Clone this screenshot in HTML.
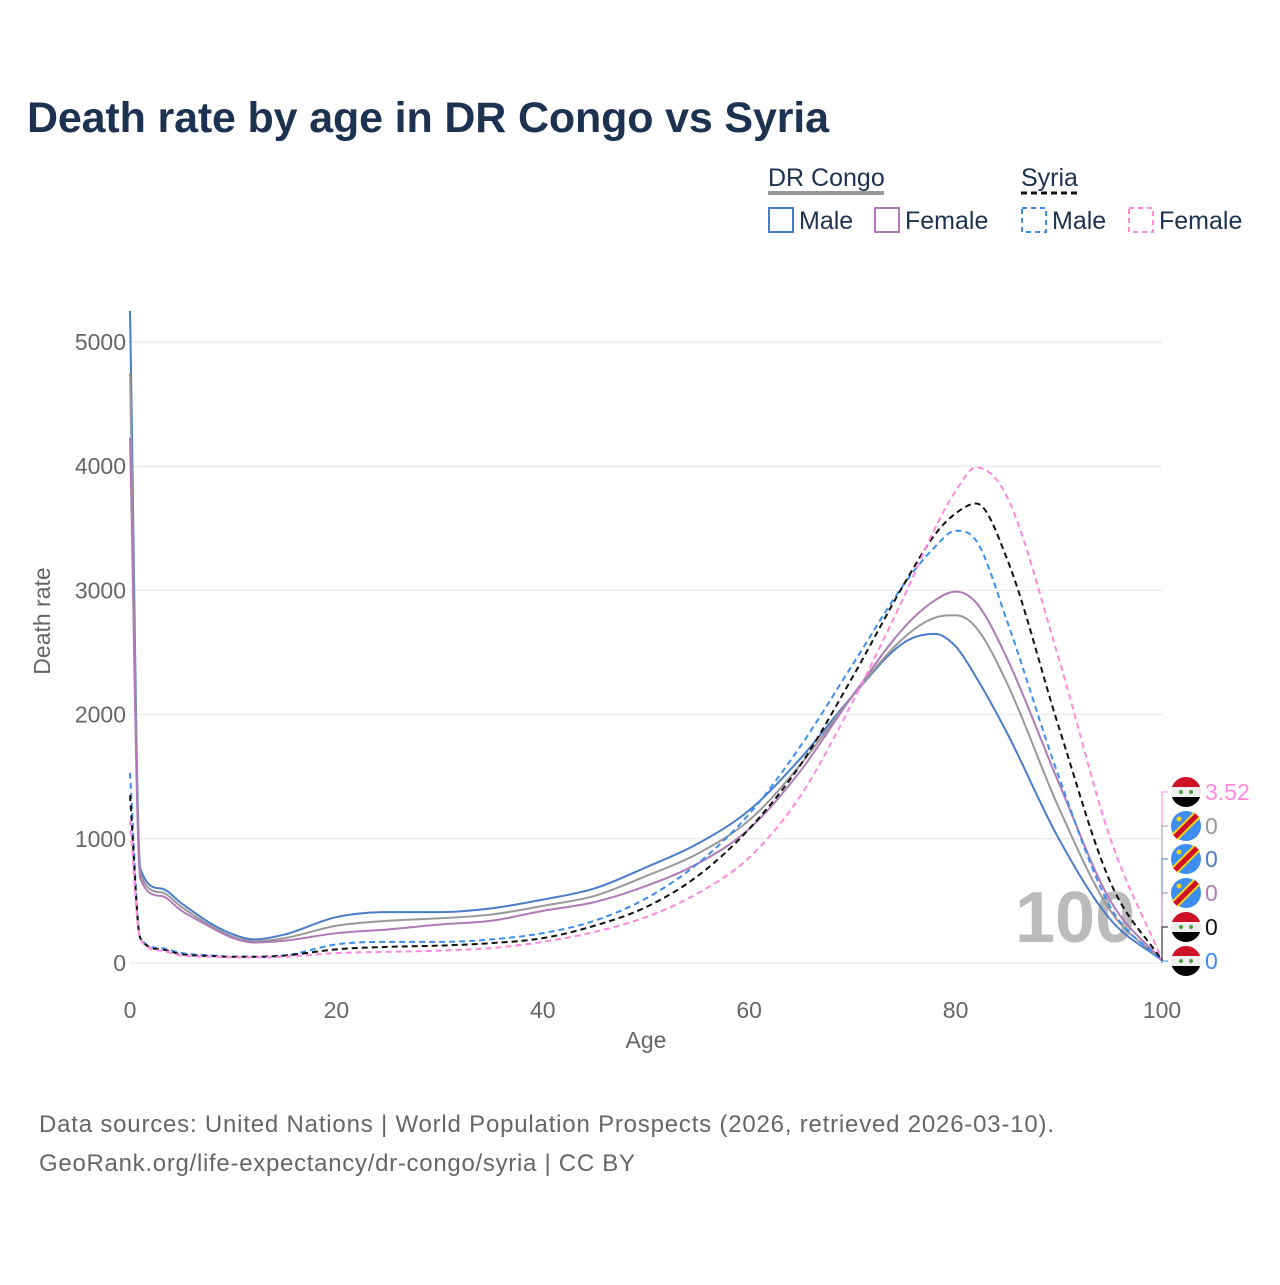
<!DOCTYPE html>
<html><head><meta charset="utf-8"><style>
body{margin:0;background:#fff;font-family:"Liberation Sans",sans-serif}
#wrap{position:relative;width:1280px;height:1280px}
</style></head><body>
<div id="wrap">
<svg id="svg" width="1280" height="1280" viewBox="0 0 1280 1280">
<text x="27" y="132" font-size="43" font-weight="bold" fill="#1c3250" textLength="802">Death rate by age in DR Congo vs Syria</text>
<g font-size="25" fill="#1c3250">
<text x="768" y="186">DR Congo</text>
<line x1="768" y1="193" x2="884" y2="193" stroke="#999" stroke-width="4"/>
<text x="1021" y="186">Syria</text>
<line x1="1021" y1="193" x2="1078" y2="193" stroke="#111" stroke-width="3" stroke-dasharray="6,4"/>
<rect x="769" y="208" width="24" height="24" fill="none" stroke="#4a7cc9" stroke-width="2"/>
<text x="799" y="229">Male</text>
<rect x="875" y="208" width="24" height="24" fill="none" stroke="#b07ab8" stroke-width="2"/>
<text x="905" y="229">Female</text>
<rect x="1022" y="208" width="24" height="24" fill="none" stroke="#3d8ef0" stroke-width="2" stroke-dasharray="5,4"/>
<text x="1052" y="229">Male</text>
<rect x="1129" y="208" width="24" height="24" fill="none" stroke="#ff88e0" stroke-width="2" stroke-dasharray="5,4"/>
<text x="1159" y="229">Female</text>
</g>
<g id="grid"></g>
<text x="1015" y="942" font-size="72" font-weight="bold" fill="#bbb">100</text>
<g id="lines"></g>
<g id="labels"></g>
<text x="646" y="1048" font-size="23" fill="#666" text-anchor="middle">Age</text>
<text transform="translate(50,621) rotate(-90)" font-size="23" fill="#666" text-anchor="middle">Death rate</text>
<text x="39" y="1132" font-size="24" fill="#666" textLength="1015">Data sources: United Nations | World Population Prospects (2026, retrieved 2026-03-10).</text>
<text x="39" y="1171" font-size="24" fill="#666" textLength="596">GeoRank.org/life-expectancy/dr-congo/syria | CC BY</text>
</svg></div>
<script>
const ages=[0,1,3,5,8,10,12,15,20,25,30,35,40,45,50,55,60,65,70,75,78,80,82,85,90,95,100];
const drcMale=[5250,760,600,480,310,230,190,230,370,410,410,440,510,600,770,960,1230,1650,2150,2580,2650,2550,2300,1850,1000,350,20];
const drcTotal=[4750,720,570,450,290,210,175,200,300,340,360,390,460,540,700,880,1150,1600,2150,2620,2780,2800,2700,2250,1250,420,20];
const drcFemale=[4230,680,540,420,280,200,165,180,240,270,310,340,420,490,620,800,1080,1550,2150,2700,2920,2990,2900,2450,1450,500,20];
const syrMale=[1530,200,120,80,60,50,50,60,150,170,170,190,240,340,520,800,1200,1750,2400,3050,3350,3480,3400,2750,1500,450,20];
const syrTotal=[1350,200,110,70,55,50,50,60,110,130,140,160,200,300,450,700,1080,1600,2300,3050,3450,3620,3700,3250,1900,650,20];
const syrFemale=[1150,190,100,60,50,45,45,50,80,90,100,120,170,250,370,560,850,1350,2100,2950,3500,3800,3990,3750,2450,1000,30];
const yTicks=[0,1000,2000,3000,4000,5000];
const xTicks=[0,20,40,60,80,100];
const endLabels=["3.52","0","0","0","0","0"];
const X=a=>130+a*10.32, Y=v=>963-v*0.1242;
const NS="http://www.w3.org/2000/svg";
function mk(t,at,p){const e=document.createElementNS(NS,t);for(const k in at)e.setAttribute(k,at[k]);p.appendChild(e);return e;}
const grid=document.getElementById('grid');
yTicks.forEach(v=>{
 const l=mk('line',{x1:130,x2:1162,y1:Y(v),y2:Y(v),stroke:'#e6e6e6','stroke-width':1},grid);
 
 
 const t=mk('text',{x:126,y:Y(v)+8,'font-size':23,fill:'#666','text-anchor':'end'},grid);t.textContent=v;
 
 
});
xTicks.forEach(v=>{
 const t=mk('text',{x:X(v),y:1018,'font-size':23,fill:'#666','text-anchor':'middle'},grid);t.textContent=v;
 
 
});
function path(vals){
 const px=ages.map(X),py=vals.map(Y),n=px.length,d=[],m=[];
 for(let i=0;i<n-1;i++)d.push((py[i+1]-py[i])/(px[i+1]-px[i]));
 m[0]=d[0];m[n-1]=d[n-2];
 for(let i=1;i<n-1;i++)m[i]=d[i-1]*d[i]<=0?0:(d[i-1]+d[i])/2;
 for(let i=0;i<n-1;i++){if(d[i]===0){m[i]=m[i+1]=0;continue;}const a=m[i]/d[i],b=m[i+1]/d[i],s=a*a+b*b;if(s>9){const t=3/Math.sqrt(s);m[i]=t*a*d[i];m[i+1]=t*b*d[i];}}
 let s=`M${px[0]},${py[0]}`;
 for(let i=0;i<n-1;i++){const h=(px[i+1]-px[i])/3;s+=`C${px[i]+h},${py[i]+m[i]*h} ${px[i+1]-h},${py[i+1]-m[i+1]*h} ${px[i+1]},${py[i+1]}`;}
 return s;
}
const lines=document.getElementById('lines');
const series=[[drcMale,'#4a7cc9',null,'line-drc-male'],[drcTotal,'#999',null,'line-drc-total'],[drcFemale,'#b07ab8',null,'line-drc-female'],[syrMale,'#3d8ef0','6,4','line-syria-male'],[syrTotal,'#111','6,4','line-syria-total'],[syrFemale,'#ff88e0','6,4','line-syria-female']];
series.forEach(s=>{
 const p=mk('path',{d:path(s[0]),fill:'none',stroke:s[1],'stroke-width':2},lines);
 if(s[2])p.setAttribute('stroke-dasharray',s[2]);
 
 
});
const lab=document.getElementById('labels');
const rows=[[792,'#ff88e0','syria'],[826,'#999','drc'],[859,'#4a7cc9','drc'],[893,'#b07ab8','drc'],[927,'#111','syria'],[961,'#3d8ef0','syria']];
rows.forEach((r,i)=>{
 const g=mk('g',{},lab);
 
 
 mk('polyline',{points:`1162,963 1162,${r[0]} 1168,${r[0]}`,fill:'none',stroke:r[1],'stroke-width':1},g);
 const cx=1186,cy=r[0];
 if(r[2]==='syria'){
  const cp=mk('clipPath',{id:'c'+i},g);mk('circle',{cx:cx,cy:cy,r:15},cp);
  mk('rect',{x:cx-15,y:cy-15,width:30,height:10,fill:'#ce1126','clip-path':`url(#c${i})`},g);
  mk('rect',{x:cx-15,y:cy-5,width:30,height:10,fill:'#eee','clip-path':`url(#c${i})`},g);
  mk('rect',{x:cx-15,y:cy+5,width:30,height:10,fill:'#000','clip-path':`url(#c${i})`},g);
  mk('circle',{cx:cx-5,cy:cy,r:2,fill:'#4a9e3c'},g);
  mk('circle',{cx:cx+5,cy:cy,r:2,fill:'#4a9e3c'},g);
 }else{
  mk('circle',{cx:cx,cy:cy,r:15,fill:'#3d8ef0'},g);
  mk('line',{x1:cx-11,y1:cy+11,x2:cx+11,y2:cy-11,stroke:'#f7d618','stroke-width':9},g);
  mk('line',{x1:cx-11,y1:cy+11,x2:cx+11,y2:cy-11,stroke:'#ce1126','stroke-width':5},g);
  mk('circle',{cx:cx-7,cy:cy-7,r:2.5,fill:'#f7d618'},g);
 }
 const t=mk('text',{x:1205,y:r[0]+8,'font-size':23,fill:r[1]},g);t.textContent=endLabels[i];
});
</script>
</body></html>
